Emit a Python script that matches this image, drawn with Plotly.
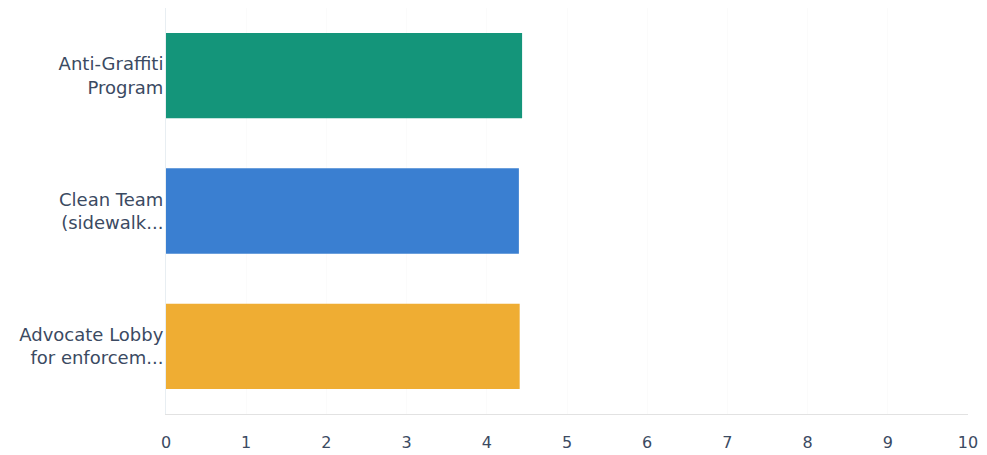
import plotly.graph_objects as go

categories = ["Anti-Graffiti<br>Program", "Clean Team<br>(sidewalk...", "Advocate Lobby<br>for enforcem..."]
values = [4.44, 4.40, 4.41]
colors = ["#14957a", "#3a7fd1", "#efad33"]
tick_vals = list(range(0, 11))
tick_text = [str(v) for v in tick_vals]

fig = go.Figure(go.Bar(
    x=values,
    y=categories,
    orientation="h",
    marker=dict(color=colors, line=dict(width=0)),
    hoverinfo="x+y",
))

font_color = "#3b4a62"
fig.update_layout(
    width=979, height=447,
    margin=dict(l=158, r=19, t=0, b=41, autoexpand=False),
    paper_bgcolor="white",
    plot_bgcolor="white",
    bargap=0.37,
    showlegend=False,
    font=dict(family="DejaVu Sans, sans-serif", size=16, color=font_color),
)
fig.update_xaxes(
    range=[0, 10],
    tickvals=tick_vals,
    ticktext=tick_text,
    showgrid=True,
    gridcolor="#fbfbfb",
    zeroline=False,
    showline=True,
    linecolor="#e2e2e2",
    linewidth=1,
    ticks="",
    ticklabelstandoff=14,
    tickfont=dict(size=16, color=font_color),
)
fig.update_yaxes(
    categoryorder="array",
    categoryarray=categories[::-1],
    showgrid=False,
    zeroline=False,
    showline=True,
    linecolor="#e8eef2",
    linewidth=1,
    ticks="",
    ticklabelstandoff=-2,
    tickfont=dict(size=18, color=font_color),
)

fig.write_html("out.html")
